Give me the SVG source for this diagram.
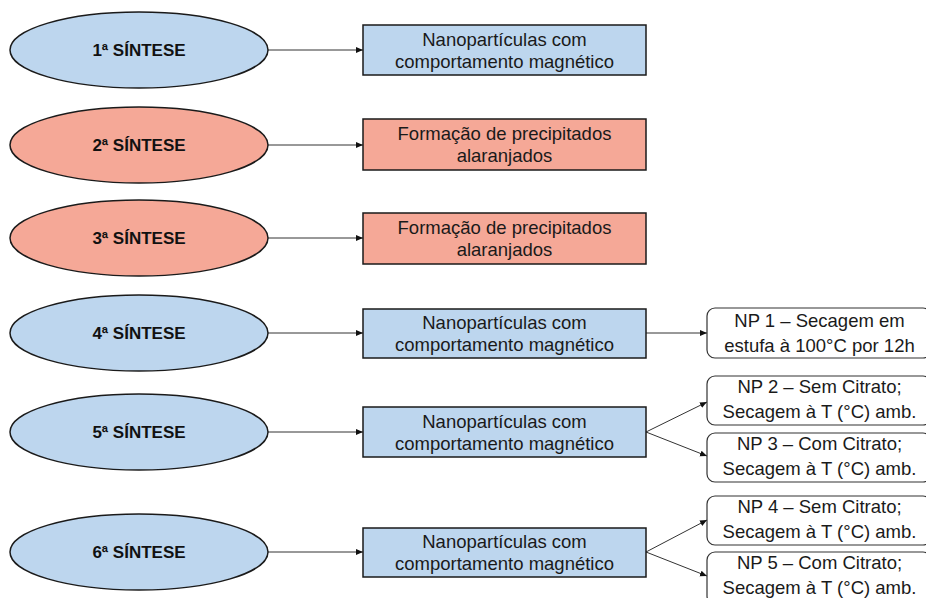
<svg xmlns="http://www.w3.org/2000/svg" width="926" height="598" viewBox="0 0 926 598">
<style>
.bg{fill:#ffffff}
.el{stroke:#1a1a1a;stroke-width:1.5}
.blue{fill:#bdd6ee}
.red{fill:#f5a897}
.rc{stroke:#1a1a1a;stroke-width:1.5}
.np{fill:#ffffff;stroke:#333333;stroke-width:1.2}
.lbl{font-family:"Liberation Sans",Arial,sans-serif;font-weight:bold;font-size:17px;fill:#111111;text-anchor:middle}
.txt{font-family:"Liberation Sans",Arial,sans-serif;font-size:18.5px;fill:#1a1a1a;text-anchor:middle}
.con{stroke:#333333;stroke-width:1;fill:none;marker-end:url(#ah)}
</style>
<defs>
<marker id="ah" markerWidth="8" markerHeight="8" refX="7" refY="4" orient="auto" markerUnits="userSpaceOnUse">
<path d="M0,1 L7,4 L0,7 Z" fill="#111111"/>
</marker>
</defs>
<rect class="bg" x="0" y="0" width="926" height="598"/>
<g id="connectors">
<line class="con" x1="268" y1="50" x2="363" y2="50"/>
<line class="con" x1="268" y1="145" x2="363" y2="145"/>
<line class="con" x1="268" y1="238" x2="363" y2="238"/>
<line class="con" x1="268" y1="333" x2="363" y2="333"/>
<line class="con" x1="268" y1="432" x2="363" y2="432"/>
<line class="con" x1="268" y1="552" x2="363" y2="552"/>
<line class="con" x1="646" y1="333" x2="707" y2="333"/>
<line class="con" x1="646" y1="432" x2="707" y2="402"/>
<line class="con" x1="646" y1="432" x2="707" y2="456"/>
<line class="con" x1="646" y1="552" x2="707" y2="520"/>
<line class="con" x1="646" y1="552" x2="707" y2="576"/>
</g>
<g id="s1"><ellipse class="el blue" cx="139" cy="50" rx="129" ry="38"/><text class="lbl" x="139" y="56">1ª SÍNTESE</text></g>
<g id="s2"><ellipse class="el red" cx="139" cy="145" rx="129" ry="38"/><text class="lbl" x="139" y="151">2ª SÍNTESE</text></g>
<g id="s3"><ellipse class="el red" cx="139" cy="238" rx="129" ry="38"/><text class="lbl" x="139" y="244">3ª SÍNTESE</text></g>
<g id="s4"><ellipse class="el blue" cx="139" cy="333" rx="129" ry="38"/><text class="lbl" x="139" y="339">4ª SÍNTESE</text></g>
<g id="s5"><ellipse class="el blue" cx="139" cy="432" rx="129" ry="38"/><text class="lbl" x="139" y="438">5ª SÍNTESE</text></g>
<g id="s6"><ellipse class="el blue" cx="139" cy="552" rx="129" ry="38"/><text class="lbl" x="139" y="558">6ª SÍNTESE</text></g>
<g id="r1"><rect class="rc blue" x="363" y="25" width="283" height="50"/><text class="txt" x="504.5" y="46">Nanopartículas com</text><text class="txt" x="504.5" y="68">comportamento magnético</text></g>
<g id="r2"><rect class="rc red" x="363" y="119" width="283" height="51"/><text class="txt" x="504.5" y="140">Formação de precipitados</text><text class="txt" x="504.5" y="162">alaranjados</text></g>
<g id="r3"><rect class="rc red" x="363" y="213" width="283" height="51"/><text class="txt" x="504.5" y="234">Formação de precipitados</text><text class="txt" x="504.5" y="256">alaranjados</text></g>
<g id="r4"><rect class="rc blue" x="363" y="309" width="283" height="49"/><text class="txt" x="504.5" y="329">Nanopartículas com</text><text class="txt" x="504.5" y="351">comportamento magnético</text></g>
<g id="r5"><rect class="rc blue" x="363" y="407" width="283" height="50"/><text class="txt" x="504.5" y="428">Nanopartículas com</text><text class="txt" x="504.5" y="450">comportamento magnético</text></g>
<g id="r6"><rect class="rc blue" x="363" y="528" width="283" height="49"/><text class="txt" x="504.5" y="548">Nanopartículas com</text><text class="txt" x="504.5" y="570">comportamento magnético</text></g>
<g id="np1"><rect class="np" x="707" y="308" width="224" height="50" rx="8"/><text class="txt" x="819.5" y="327">NP 1 – Secagem em</text><text class="txt" x="819.5" y="352">estufa à 100°C por 12h</text></g>
<g id="np2"><rect class="np" x="707" y="376" width="224" height="49" rx="8"/><text class="txt" x="819.5" y="393">NP 2 – Sem Citrato;</text><text class="txt" x="819.5" y="418">Secagem à T (°C) amb.</text></g>
<g id="np3"><rect class="np" x="707" y="433" width="224" height="49" rx="8"/><text class="txt" x="819.5" y="450">NP 3 – Com Citrato;</text><text class="txt" x="819.5" y="475">Secagem à T (°C) amb.</text></g>
<g id="np4"><rect class="np" x="707" y="496" width="224" height="49" rx="8"/><text class="txt" x="819.5" y="513">NP 4 – Sem Citrato;</text><text class="txt" x="819.5" y="538">Secagem à T (°C) amb.</text></g>
<g id="np5"><rect class="np" x="707" y="552" width="224" height="52" rx="8"/><text class="txt" x="819.5" y="569">NP 5 – Com Citrato;</text><text class="txt" x="819.5" y="594">Secagem à T (°C) amb.</text></g>
</svg>
